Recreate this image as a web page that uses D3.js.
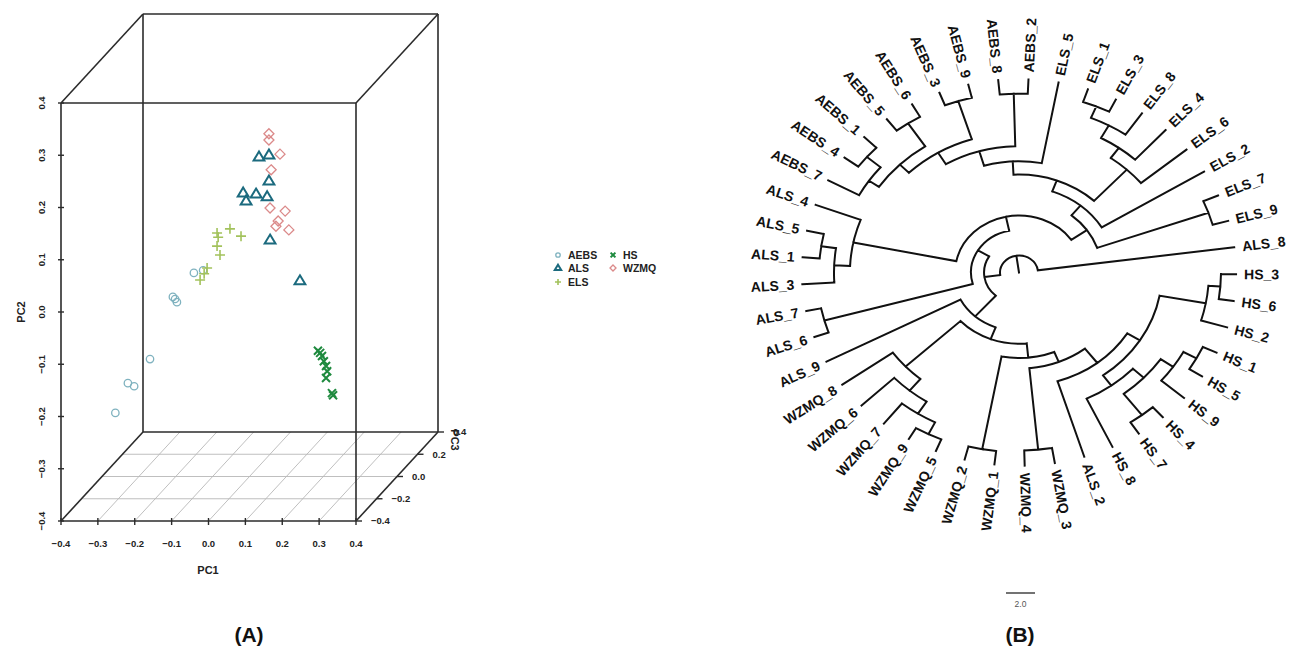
<!DOCTYPE html>
<html>
<head>
<meta charset="utf-8">
<script src="https://cdn.jsdelivr.net/npm/d3@7"></script>
<style>
body { margin: 0; background: #fff; }
text { font-family: "Liberation Sans", Arial, sans-serif; }
</style>
</head>
<body>
<svg id="fig" width="1292" height="649"></svg>
<script>
// ---------- panel A: PCA scores [PC1, PC2, PC3] ----------
var groups = ["AEBS", "ALS", "ELS", "HS", "WZMQ"];
var groupColors = ["#7fb2bf", "#1b6a7e", "#a3c25c", "#1e8a3e", "#db8a8a"];

var aebsScores = [[-0.123, 0.011, -0.1], [-0.098, 0.016, -0.1], [-0.180, -0.035, -0.1],
    [-0.169, -0.045, -0.1], [-0.174, -0.039, -0.1], [-0.242, -0.154, -0.1],
    [-0.302, -0.200, -0.1], [-0.285, -0.206, -0.1], [-0.336, -0.257, -0.1]];
var alsScores = [[-0.002, 0.190, 0.1], [0.025, 0.194, 0.1], [0.025, 0.144, 0.1],
    [-0.045, 0.121, 0.1], [-0.010, 0.119, 0.1], [-0.037, 0.106, 0.1],
    [0.020, 0.114, 0.1], [0.028, 0.031, 0.1], [0.109, -0.047, 0.1]];
var elsScores = [[-0.088, 0.066, 0.0], [-0.053, 0.074, 0.0], [-0.023, 0.060, 0.0],
    [-0.088, 0.041, 0.0], [-0.080, 0.024, 0.0], [-0.115, -0.001, 0.0],
    [-0.134, -0.024, 0.0], [-0.085, 0.058, 0.0], [-0.123, -0.012, 0.0]];
var hsScores = [[0.130, -0.202, 0.2], [0.136, -0.206, 0.2], [0.141, -0.212, 0.2],
    [0.146, -0.222, 0.2], [0.152, -0.231, 0.2], [0.155, -0.241, 0.2],
    [0.152, -0.254, 0.2], [0.168, -0.283, 0.2], [0.171, -0.287, 0.2]];
var wzmqScores = [[0.011, 0.224, 0.15], [0.011, 0.212, 0.15], [0.041, 0.185, 0.15],
    [0.017, 0.155, 0.15], [0.014, 0.082, 0.15], [0.055, 0.076, 0.15],
    [0.036, 0.057, 0.15], [0.030, 0.047, 0.15], [0.065, 0.040, 0.15]];

var pc1Ticks = [-0.4, -0.3, -0.2, -0.1, 0.0, 0.1, 0.2, 0.3, 0.4];
var pc2Ticks = [-0.4, -0.3, -0.2, -0.1, 0.0, 0.1, 0.2, 0.3, 0.4];
var pc3Ticks = [-0.4, -0.2, 0.0, 0.2, 0.4];

// ---------- panel B: circular (ultrametric) tree ----------
var tipOrder = ["HS_3", "HS_6", "HS_2", "HS_1", "HS_5", "HS_9", "HS_4", "HS_7", "HS_8",
    "ALS_2", "WZMQ_3", "WZMQ_4", "WZMQ_1", "WZMQ_2", "WZMQ_5", "WZMQ_9", "WZMQ_7",
    "WZMQ_6", "WZMQ_8", "ALS_9", "ALS_6", "ALS_7", "ALS_3", "ALS_1", "ALS_5", "ALS_4",
    "AEBS_7", "AEBS_4", "AEBS_1", "AEBS_5", "AEBS_6", "AEBS_3", "AEBS_9", "AEBS_8",
    "AEBS_2", "ELS_5", "ELS_1", "ELS_3", "ELS_8", "ELS_4", "ELS_6", "ELS_2", "ELS_7",
    "ELS_9", "ALS_8"];
var tipDepth = 14.97;
// [node, child, child, depth from root]
var innerNodes = [
    ["h36", "HS_3", "HS_6", 13.93], ["h362", "h36", "HS_2", 13.10],
    ["h15", "HS_1", "HS_5", 13.93], ["h159", "h15", "HS_9", 12.90],
    ["h47", "HS_4", "HS_7", 13.93], ["hd", "h159", "h47", 11.86],
    ["he", "hd", "HS_8", 10.83], ["hf", "h362", "he", 9.86],
    ["hg", "hf", "ALS_2", 8.83], ["w43", "WZMQ_3", "WZMQ_4", 13.79],
    ["hh", "hg", "w43", 7.45], ["w21", "WZMQ_1", "WZMQ_2", 13.93],
    ["b10", "hh", "w21", 6.62], ["w95", "WZMQ_5", "WZMQ_9", 14.00],
    ["w795", "w95", "WZMQ_7", 12.97], ["w6", "w795", "WZMQ_6", 11.86],
    ["w8", "w6", "WZMQ_8", 10.69], ["b9", "b10", "w8", 5.52],
    ["b8", "b9", "ALS_9", 4.55], ["a76", "ALS_6", "ALS_7", 13.93],
    ["a51", "ALS_1", "ALS_5", 13.79], ["a513", "ALS_3", "a51", 12.76],
    ["a4513", "a513", "ALS_4", 11.66], ["e14", "AEBS_4", "AEBS_1", 13.79],
    ["e714", "AEBS_7", "e14", 12.55], ["e56", "AEBS_5", "AEBS_6", 13.86],
    ["A1", "e714", "e56", 11.72], ["e39", "AEBS_3", "AEBS_9", 13.93],
    ["A2", "A1", "e39", 10.83], ["e82", "AEBS_8", "AEBS_2", 13.86],
    ["A3", "A2", "e82", 9.79], ["A4", "A3", "ELS_5", 8.62],
    ["l13", "ELS_1", "ELS_3", 13.93], ["E4", "l13", "ELS_8", 12.97],
    ["E3", "E4", "ELS_4", 11.86], ["E2", "E3", "ELS_6", 10.90],
    ["B1", "A4", "E2", 7.59], ["B2", "B1", "ELS_2", 6.69],
    ["l79", "ELS_7", "ELS_9", 13.86], ["B3", "B2", "l79", 5.72],
    ["B4", "a4513", "B3", 4.41], ["B5", "a76", "B4", 3.31],
    ["B7", "b8", "B5", 2.41], ["root", "B7", "ALS_8", 1.31]
];
var scaleBarValue = 2.0;

var svg = d3.select("#fig");

// ================= panel A =================
var xS = d3.scaleLinear().domain([-0.4, 0.4]).range([61, 356]);
var yS = d3.scaleLinear().domain([-0.4, 0.4]).range([521, 103]);
var zX = d3.scaleLinear().domain([-0.4, 0.4]).range([0, 82]);
var zY = d3.scaleLinear().domain([-0.4, 0.4]).range([0, -89]);

function proj(x, y, z) {
    return [xS(x) + zX(z), yS(y) + zY(z)];
}

var gA = svg.append("g").attr("class", "panelA");

// floor grid
var grid = gA.append("g").attr("stroke", "#b8b8b8").attr("stroke-width", 0.9).attr("fill", "none");
pc1Ticks.slice(1, -1).forEach(function(v) {
    var a = proj(v, -0.4, -0.4), b = proj(v, -0.4, 0.4);
    grid.append("line").attr("x1", a[0]).attr("y1", a[1]).attr("x2", b[0]).attr("y2", b[1]);
});
pc3Ticks.slice(1, -1).forEach(function(v) {
    var a = proj(-0.4, -0.4, v), b = proj(0.4, -0.4, v);
    grid.append("line").attr("x1", a[0]).attr("y1", a[1]).attr("x2", b[0]).attr("y2", b[1]);
});

// box
var corners = [];
[-0.4, 0.4].forEach(function(z) {
    [-0.4, 0.4].forEach(function(y) {
        [-0.4, 0.4].forEach(function(x) { corners.push([x, y, z]); });
    });
});
var boxG = gA.append("g").attr("stroke", "#2b2b2b").attr("stroke-width", 1.6).attr("fill", "none");
for (var i = 0; i < corners.length; i++) {
    for (var j = i + 1; j < corners.length; j++) {
        var c1 = corners[i], c2 = corners[j], diff = 0;
        for (var k = 0; k < 3; k++) if (c1[k] !== c2[k]) diff++;
        if (diff === 1) {
            var p1 = proj(c1[0], c1[1], c1[2]), p2 = proj(c2[0], c2[1], c2[2]);
            boxG.append("line").attr("x1", p1[0]).attr("y1", p1[1]).attr("x2", p2[0]).attr("y2", p2[1]);
        }
    }
}

var fmt = d3.format(".1f");
var tickG = gA.append("g").attr("stroke", "#2b2b2b").attr("stroke-width", 1.4);
var labG = gA.append("g").attr("font-size", "9.5px").attr("font-weight", "bold").attr("fill", "#222");

pc1Ticks.forEach(function(v) {
    tickG.append("line").attr("x1", xS(v)).attr("x2", xS(v)).attr("y1", 518).attr("y2", 525);
    labG.append("text").attr("x", xS(v)).attr("y", 547).attr("text-anchor", "middle").text(fmt(v));
});
pc2Ticks.forEach(function(v) {
    tickG.append("line").attr("x1", 58).attr("x2", 64).attr("y1", yS(v)).attr("y2", yS(v));
    labG.append("text").attr("transform", "translate(45," + yS(v) + ") rotate(-90)")
        .attr("text-anchor", "middle").text(fmt(v));
});
pc3Ticks.forEach(function(v) {
    var p = proj(0.4, -0.4, v);
    tickG.append("line").attr("x1", p[0]).attr("x2", p[0] + 6).attr("y1", p[1]).attr("y2", p[1]);
    labG.append("text").attr("x", p[0] + 15).attr("y", p[1]).attr("dy", "0.35em").text(fmt(v));
});

gA.append("text").attr("x", 208).attr("y", 574).attr("text-anchor", "middle")
    .attr("font-size", "11px").attr("font-weight", "bold").attr("fill", "#222").text("PC1");
gA.append("text").attr("transform", "translate(25,312) rotate(-90)").attr("text-anchor", "middle")
    .attr("font-size", "11px").attr("font-weight", "bold").attr("fill", "#222").text("PC2");
gA.append("text").attr("transform", "translate(451,440) rotate(90)").attr("text-anchor", "middle")
    .attr("font-size", "11px").attr("font-weight", "bold").attr("fill", "#222").text("PC3");

// point symbols
var symbolPaths = {
    AEBS: null,
    ALS: "M0,-5.6L5.4,3.4L-5.4,3.4Z",
    ELS: "M-5,0H5M0,-5V5",
    HS: "M-4,-4L4,4M-4,4L4,-4",
    WZMQ: "M0,-5L5,0L0,5L-5,0Z"
};
var symbolWidth = { AEBS: 1.3, ALS: 2, ELS: 1.6, HS: 2, WZMQ: 1.3 };

function drawSymbol(g, grp, x, y, scale) {
    var col = groupColors[groups.indexOf(grp)];
    if (grp === "AEBS") {
        g.append("circle").attr("cx", x).attr("cy", y).attr("r", 3.7 * scale)
            .attr("fill", "none").attr("stroke", col).attr("stroke-width", symbolWidth[grp]);
    } else {
        g.append("path").attr("d", symbolPaths[grp])
            .attr("transform", "translate(" + x + "," + y + ") scale(" + scale + ")")
            .attr("fill", "none").attr("stroke", col).attr("stroke-width", symbolWidth[grp] / scale);
    }
}

var ptsG = gA.append("g").attr("class", "points");
var allScores = [aebsScores, alsScores, elsScores, hsScores, wzmqScores];
allScores.forEach(function(arr, gi) {
    arr.forEach(function(s) {
        var p = proj(s[0], s[1], s[2]);
        drawSymbol(ptsG, groups[gi], p[0], p[1], 1);
    });
});

// legend
var legG = svg.append("g").attr("class", "legend");
var legPos = [[558, 255], [558, 268], [558, 282], [613, 255], [613, 268]];
groups.forEach(function(grp, i) {
    drawSymbol(legG, grp, legPos[i][0], legPos[i][1], 0.6);
    legG.append("text").attr("x", legPos[i][0] + 10).attr("y", legPos[i][1]).attr("dy", "0.36em")
        .attr("font-size", "10.5px").attr("font-weight", "bold").attr("fill", "#222").text(grp);
});

// ================= panel B =================
// the tree was drawn on a device with unequal x/y units: circle -> ellipse
var cx = 1019, cy = 272.5, aspect = 0.89;
var angleOf = d3.scaleLinear().domain([0, tipOrder.length]).range([0.5, 360.5]);
var rS = d3.scaleLinear().domain([0, 1]).range([0, 14.5]);
var rad = Math.PI / 180;

var nodes = {};
tipOrder.forEach(function(name, i) {
    nodes[name] = { name: name, depth: tipDepth, angle: angleOf(i), tip: true };
});
innerNodes.forEach(function(d) {
    var a = nodes[d[1]], b = nodes[d[2]];
    var n = { name: d[0], depth: d[3], angle: (a.angle + b.angle) / 2, children: [a, b] };
    a.parent = n;
    b.parent = n;
    nodes[d[0]] = n;
});

function pt(r, ang) {
    return [r * Math.cos(ang * rad), r * Math.sin(ang * rad)];
}

var tp = d3.path();
Object.keys(nodes).forEach(function(key) {
    var n = nodes[key];
    var r = rS(n.depth);
    var r0 = n.parent ? rS(n.parent.depth) : 0;
    var s = pt(r0, n.angle), e = pt(r, n.angle);
    tp.moveTo(s[0], s[1]);
    tp.lineTo(e[0], e[1]);
    if (n.children) {
        var a0 = Math.min(n.children[0].angle, n.children[1].angle);
        var a1 = Math.max(n.children[0].angle, n.children[1].angle);
        var st = pt(r, a0);
        tp.moveTo(st[0], st[1]);
        tp.arc(0, 0, r, a0 * rad, a1 * rad);
    }
});
var gB = svg.append("g").attr("class", "panelB");
gB.append("g").attr("transform", "translate(" + cx + "," + cy + ") scale(1," + aspect + ")")
    .append("path").attr("d", tp.toString()).attr("fill", "none")
    .attr("vector-effect", "non-scaling-stroke")
    .attr("stroke", "#111").attr("stroke-width", 2).attr("stroke-linecap", "square");

gB.selectAll("text.tip").data(tipOrder).enter().append("text")
    .attr("class", "tip")
    .attr("font-size", "14px").attr("font-weight", "bold").attr("fill", "#111")
    .attr("dy", "0.35em")
    .attr("text-anchor", function(d) {
        var a = nodes[d].angle;
        return (a > 90 && a < 270) ? "end" : "start";
    })
    .attr("transform", function(d) {
        var n = nodes[d], r = rS(n.depth) + 8;
        var c = Math.cos(n.angle * rad), s = Math.sin(n.angle * rad);
        var vis = Math.atan2(aspect * s, c) / rad;
        var flip = (n.angle > 90 && n.angle < 270);
        return "translate(" + (cx + r * c) + "," + (cy + aspect * r * s) + ") rotate(" +
            (flip ? vis + 180 : vis) + ")";
    })
    .text(function(d) { return d; });

// scale bar
var sbLen = rS(scaleBarValue);
gB.append("line").attr("x1", 1006).attr("x2", 1006 + sbLen).attr("y1", 593).attr("y2", 593)
    .attr("stroke", "#444").attr("stroke-width", 1.5);
gB.append("text").attr("x", 1006 + sbLen / 2).attr("y", 607).attr("text-anchor", "middle")
    .attr("font-size", "8.5px").attr("fill", "#555").text(fmt(scaleBarValue));

// panel letters
svg.append("text").attr("x", 249).attr("y", 642).attr("text-anchor", "middle")
    .attr("font-family", "'Noto Sans', 'Open Sans', sans-serif")
    .attr("font-size", "21px").attr("font-weight", "bold").attr("fill", "#111").text("(A)");
svg.append("text").attr("x", 1020).attr("y", 642).attr("text-anchor", "middle")
    .attr("font-family", "'Noto Sans', 'Open Sans', sans-serif")
    .attr("font-size", "21px").attr("font-weight", "bold").attr("fill", "#111").text("(B)");
</script>
</body>
</html>
